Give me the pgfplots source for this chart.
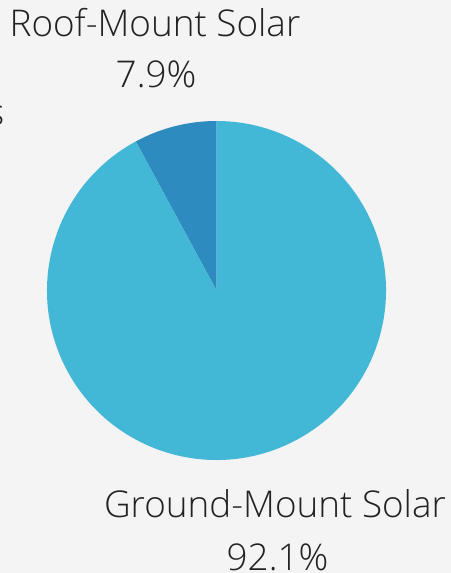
\documentclass[border=0pt]{standalone}
\usepackage{fontspec}
\setmainfont{Open Sans}[UprightFont=* Light]
\usepackage{pgfplots}
\pgfplotsset{compat=1.18}
\definecolor{bg}{HTML}{F4F4F4}
\definecolor{ground}{HTML}{42B8D6}
\definecolor{roof}{HTML}{2E8BBF}
\definecolor{txt}{HTML}{222222}
% data (percent)
\def\roofval{7.9}
\def\groundval{92.1}
\begin{document}
\begin{tikzpicture}
\begin{axis}[name=ax, x=1bp, y=1bp, xmin=0, xmax=451, ymin=0, ymax=573,
  hide axis, scale only axis, clip=false]
  \fill[bg] (axis cs:0,0) rectangle (axis cs:451,573);
  \pgfmathsetmacro{\aroof}{90+3.6*\roofval}
  \pgfmathsetmacro{\aground}{\aroof+3.6*\groundval}
  \fill[roof] (axis cs:216.5,282.5) -- ++(90:169.5bp) arc[start angle=90, end angle=\aroof, radius=169.5bp] -- cycle;
  \fill[ground] (axis cs:216.5,282.5) -- ++(\aroof:169.5bp) arc[start angle=\aroof, end angle=\aground, radius=169.5bp] -- cycle;
  \begin{scope}[every node/.style={text=txt, inner sep=0pt, font=\fontsize{37}{44}\selectfont}]
  \node[anchor=base] at (axis cs:155,536) {Roof-Mount Solar};
  \node[anchor=base] at (axis cs:156,485) {7.9\%};
  \node[anchor=base] at (axis cs:275,55) {Ground-Mount Solar};
  \node[anchor=base] at (axis cs:277.5,2.5) {92.1\%};
  \node[anchor=base east] at (axis cs:4.5,447) {s};
  \end{scope}
\end{axis}
\pgfresetboundingbox
\useasboundingbox (ax.south west) rectangle (ax.north east);
\end{tikzpicture}
\end{document}
